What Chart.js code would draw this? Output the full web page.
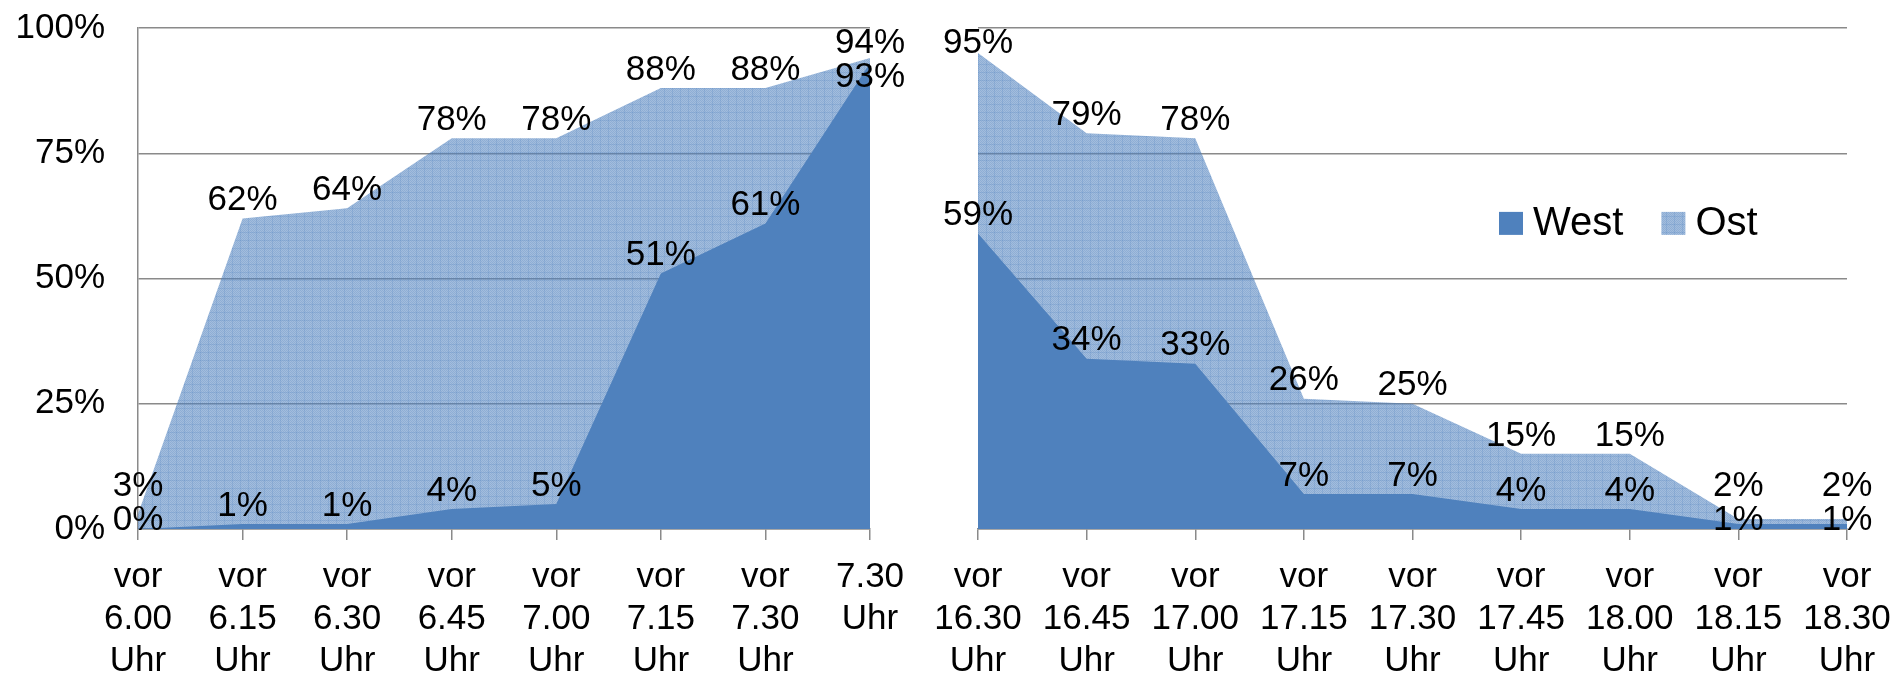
<!DOCTYPE html>
<html lang="de">
<head>
<meta charset="utf-8">
<title>West / Ost</title>
<script src="https://cdn.jsdelivr.net/npm/chart.js@4.4.1/dist/chart.umd.min.js"></script>
<style>
  html, body { margin: 0; padding: 0; background: #fff; }
  body { width: 1895px; height: 674px; position: relative; overflow: hidden; }
  .panel { position: absolute; top: 0; height: 674px; }
  #morning-wrap { left: 0; width: 930px; }
  #evening-wrap { left: 930px; width: 965px; }
</style>
</head>
<body>
<div class="panel" id="morning-wrap"><canvas id="morning" width="930" height="674"></canvas></div>
<div class="panel" id="evening-wrap"><canvas id="evening" width="965" height="674"></canvas></div>
<script>
// morning (left panel)
const morningLabels = [
    ['vor', '6.00', 'Uhr'], ['vor', '6.15', 'Uhr'], ['vor', '6.30', 'Uhr'], ['vor', '6.45', 'Uhr'],
    ['vor', '7.00', 'Uhr'], ['vor', '7.15', 'Uhr'], ['vor', '7.30', 'Uhr'], ['7.30', 'Uhr']
];
const morningWest = [0, 1, 1, 4, 5, 51, 61, 93];
const morningOst = [3, 62, 64, 78, 78, 88, 88, 94];

// evening (right panel)
const eveningLabels = [
    ['vor', '16.30', 'Uhr'], ['vor', '16.45', 'Uhr'], ['vor', '17.00', 'Uhr'], ['vor', '17.15', 'Uhr'],
    ['vor', '17.30', 'Uhr'], ['vor', '17.45', 'Uhr'], ['vor', '18.00', 'Uhr'], ['vor', '18.15', 'Uhr'],
    ['vor', '18.30', 'Uhr']
];
const eveningWest = [59, 34, 33, 7, 7, 4, 4, 1, 1];
const eveningOst = [95, 79, 78, 26, 25, 15, 15, 2, 2];

const yTicks = [0, 25, 50, 75, 100];
const seriesNames = ['West', 'Ost'];

const FONT = '"Liberation Sans", Arial, sans-serif';
const GRID = '#8a8a8a';
const WEST_COLOR = '#4f81bd';

Chart.defaults.font.family = FONT;
Chart.defaults.color = '#000';

function makeOstPattern() {
    const c = document.createElement('canvas');
    c.width = 8;
    c.height = 8;
    const p = c.getContext('2d');
    p.fillStyle = 'rgba(79,129,189,0.52)';
    p.fillRect(0, 0, 8, 8);
    p.fillStyle = 'rgba(79,129,189,0.25)';
    for (let y = 0; y < 8; y++) {
        for (let x = 0; x < 8; x++) {
            if ((x + y) % 2 === 0) p.fillRect(x, y, 1, 1);
        }
    }
    p.fillStyle = 'rgba(79,129,189,0.2)';
    p.fillRect(0, 0, 8, 1);
    p.fillRect(0, 0, 1, 8);
    return p.createPattern(c, 'repeat');
}
const ostPattern = makeOstPattern();

// value labels above each point, pushed apart when West and Ost collide
const valueLabels = {
    id: 'valueLabels',
    afterDatasetsDraw(chart) {
        const ctx = chart.ctx;
        const west = chart.getDatasetMeta(0).data;
        const ost = chart.getDatasetMeta(1).data;
        const westVals = chart.data.datasets[0].data;
        const ostVals = chart.data.datasets[1].data;
        const top = chart.chartArea.top;
        ctx.save();
        ctx.font = '35px ' + FONT;
        ctx.fillStyle = '#000';
        ctx.textAlign = 'center';
        ctx.textBaseline = 'middle';
        west.forEach((pt, i) => {
            let yw = pt.y - 18;
            let yo = ost[i].y - 18;
            if (yw - yo < 34) {
                const mid = (yw + yo) / 2;
                yo = mid - 17;
                yw = mid + 17;
            }
            if (yo < top + 15) {
                yo = top + 15;
                yw = Math.max(yw, yo + 34);
            }
            ctx.fillText(ostVals[i] + '%', ost[i].x, yo);
            ctx.fillText(westVals[i] + '%', pt.x, yw);
        });
        ctx.restore();
    }
};

const cornerLegend = {
    id: 'cornerLegend',
    afterDraw(chart) {
        const ctx = chart.ctx;
        const y = chart.scales.y.getPixelForValue(61);
        let x = chart.chartArea.left + 521;
        ctx.save();
        ctx.font = '40px ' + FONT;
        ctx.textAlign = 'left';
        ctx.textBaseline = 'middle';
        chart.data.datasets.forEach(ds => {
            ctx.fillStyle = ds.backgroundColor;
            ctx.fillRect(x, y - 11.5, 24, 23);
            ctx.fillStyle = '#000';
            ctx.fillText(ds.label, x + 34, y + 1);
            x += 34 + ctx.measureText(ds.label).width + 38;
        });
        ctx.restore();
    }
};

function buildChart(canvasId, labels, west, ost, isLeft) {
    const ctx = document.getElementById(canvasId).getContext('2d');
    return new Chart(ctx, {
        type: 'line',
        data: {
            labels: labels,
            datasets: [{
                label: seriesNames[0],
                data: west,
                backgroundColor: WEST_COLOR,
                borderWidth: 0,
                pointRadius: 0,
                fill: 'origin'
            }, {
                label: seriesNames[1],
                data: ost,
                backgroundColor: ostPattern,
                borderWidth: 0,
                pointRadius: 0,
                fill: 'origin'
            }]
        },
        options: {
            responsive: false,
            animation: false,
            layout: {
                padding: isLeft
                    ? { top: 28, left: 0, right: 60, bottom: 0 }
                    : { top: 28, left: 48, right: 48, bottom: 0 }
            },
            plugins: {
                legend: { display: false },
                tooltip: { enabled: false }
            },
            scales: {
                x: {
                    z: 1,
                    offset: false,
                    grid: {
                        drawOnChartArea: false,
                        drawTicks: true,
                        tickLength: 11,
                        color: GRID,
                        lineWidth: 1.5
                    },
                    border: { display: true, color: GRID, width: 1.5 },
                    ticks: {
                        font: { size: 35, lineHeight: 1.2 },
                        color: '#000',
                        padding: 16,
                        maxRotation: 0,
                        autoSkip: false
                    },
                    afterFit: s => {
                        s.height = 145;
                        s.paddingLeft = 0;
                        s.paddingRight = 0;
                    }
                },
                y: {
                    min: 0,
                    max: 100,
                    afterBuildTicks: s => { s.ticks = yTicks.map(v => ({ value: v })); },
                    grid: { color: GRID, lineWidth: 1.5, drawTicks: false },
                    border: { display: isLeft, color: GRID, width: 1.5 },
                    ticks: {
                        display: isLeft,
                        font: { size: 35 },
                        color: '#000',
                        padding: 33,
                        callback: v => v + '%'
                    },
                    afterFit: s => {
                        s.width = isLeft ? 138 : 0;
                        s.paddingTop = 0;
                        s.paddingBottom = 0;
                    }
                }
            }
        },
        plugins: isLeft ? [valueLabels] : [valueLabels, cornerLegend]
    });
}

buildChart('morning', morningLabels, morningWest, morningOst, true);
buildChart('evening', eveningLabels, eveningWest, eveningOst, false);
</script>
</body>
</html>
